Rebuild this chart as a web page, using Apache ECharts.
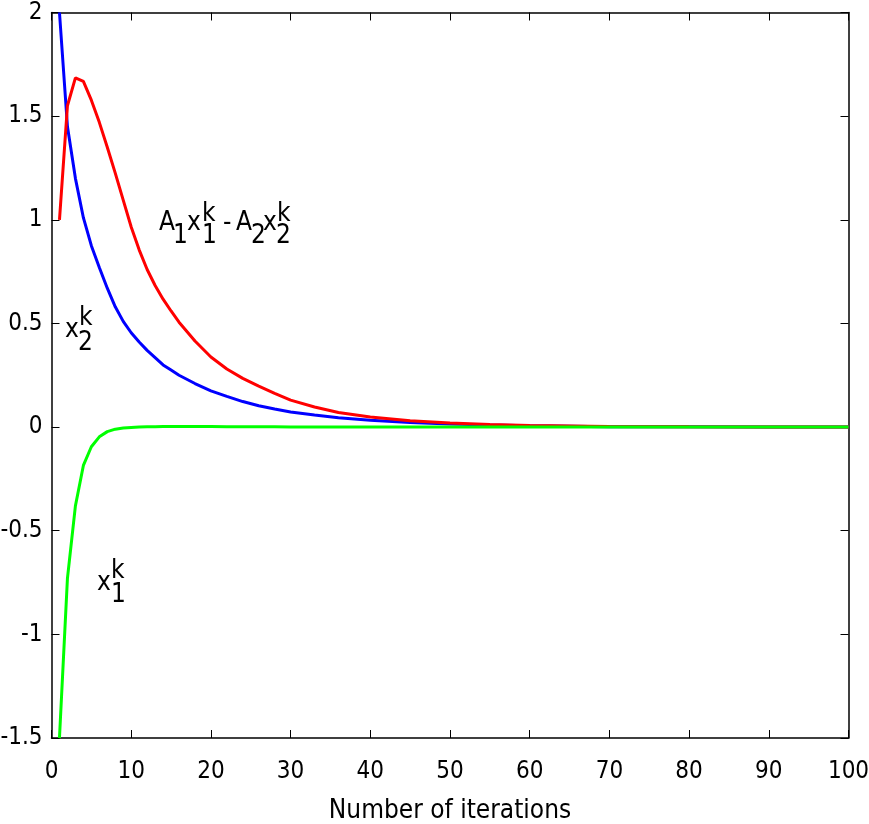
<!DOCTYPE html>
<html>
<head>
<meta charset="utf-8">
<script src="https://cdn.jsdelivr.net/npm/echarts@6/dist/echarts.min.js"></script>
<style>
  html, body { margin: 0; padding: 0; background: #fff; }
  #main { width: 869px; height: 824px; }
</style>
</head>
<body>
<div id="main"></div>
<script>
var iters = [1,2,3,4,5,6,7,8,9,10,11,12,13,14,15,16,18,20,22,24,26,28,30,33,36,40,45,50,55,60,70,80,90,100];
// x2^k (blue)
var x2Vals = [2.0,1.45,1.2,1.01,0.875,0.77,0.67,0.58,0.51,0.455,0.41,0.37,0.335,0.30,0.275,0.25,0.21,0.175,0.148,0.123,0.103,0.087,0.073,0.058,0.045,0.033,0.022,0.015,0.01,0.006,0.002,0.001,0,0];
// A1 x1^k - A2 x2^k (red)
var diffVals = [1.0,1.55,1.685,1.668,1.577,1.47,1.35,1.225,1.095,0.965,0.855,0.76,0.683,0.617,0.56,0.506,0.415,0.338,0.28,0.235,0.198,0.163,0.13,0.097,0.07,0.049,0.031,0.02,0.012,0.008,0.003,0.001,0,0];
// x1^k (green)
var x1Vals = [-1.5,-0.73,-0.38,-0.185,-0.095,-0.047,-0.022,-0.01,-0.005,-0.002,0,0.001,0.002,0.003,0.003,0.003,0.003,0.003,0.002,0.002,0.001,0.001,0,0,0,0,0,0,0,0,0,0,0,0];

var xTicks = {min: 0, max: 100, step: 10};
var yTicks = {min: -1.5, max: 2, step: 0.5};

function pairs(vals) {
	var out = [];
	for (var i = 0; i < iters.length; i++) {
		out.push([iters[i], vals[i]]);
	}
	return out;
}

var FONT = '"Liberation Sans Narrow", "DejaVu Sans Condensed", "Liberation Sans", sans-serif';
var myChart = echarts.init(document.getElementById('main'));

// pieces of a label with sub and superscripts: [text, x, baseline]
function label(parts, size) {
	return parts.map(function (p) {
		return {
			type: 'text',
			x: p[1],
			y: p[2],
			style: {
				text: p[0],
				fill: '#000',
				font: size + 'px ' + FONT,
				textVerticalAlign: 'bottom'
			}
		};
	});
}

var txt = 26;
var annotations = [].concat(
	label([['A', 159, 236], ['1', 173, 249], ['x', 187, 236], ['k', 202, 227], ['1', 202, 249],
	       ['-', 223, 236], ['A', 236, 236], ['2', 251, 249], ['x', 263, 236], ['k', 277, 227], ['2', 276, 249]], txt),
	label([['x', 65, 343], ['k', 79, 331], ['2', 78, 356]], txt),
	label([['x', 97, 596], ['k', 111, 584], ['1', 111, 608]], txt)
);

var axisLineStyle = {color: '#000', width: 1.5};
var tickStyle = {show: true, inside: true, length: 8, lineStyle: {color: '#000', width: 1}};
var option = {
	backgroundColor: '#fff',
	animation: false,
	grid: {left: 51.5, right: 20.5, top: 12.5, bottom: 86, containLabel: false, outerBoundsMode: 'none'},
	xAxis: [{
		type: 'value',
		min: xTicks.min, max: xTicks.max, interval: xTicks.step,
		name: 'Number of iterations',
		nameLocation: 'middle',
		nameGap: 60,
		nameTextStyle: {fontFamily: FONT, fontSize: 26, color: '#000'},
		axisLine: {show: true, onZero: false, lineStyle: axisLineStyle},
		axisTick: tickStyle,
		axisLabel: {fontFamily: FONT, fontSize: 24, color: '#000', margin: 22},
		splitLine: {show: false}
	}, {
		type: 'value', position: 'top',
		min: xTicks.min, max: xTicks.max, interval: xTicks.step,
		axisLine: {show: true, onZero: false, lineStyle: axisLineStyle},
		axisTick: tickStyle,
		axisLabel: {show: false},
		splitLine: {show: false}
	}],
	yAxis: [{
		type: 'value',
		min: yTicks.min, max: yTicks.max, interval: yTicks.step,
		axisLine: {show: true, onZero: false, lineStyle: axisLineStyle},
		axisTick: tickStyle,
		axisLabel: {fontFamily: FONT, fontSize: 24, color: '#000', margin: 9},
		splitLine: {show: false}
	}, {
		type: 'value', position: 'right',
		min: yTicks.min, max: yTicks.max, interval: yTicks.step,
		axisLine: {show: true, onZero: false, lineStyle: axisLineStyle},
		axisTick: tickStyle,
		axisLabel: {show: false},
		splitLine: {show: false}
	}],
	series: [{
		name: 'x2', type: 'line', data: pairs(x2Vals),
		showSymbol: false, clip: true,
		lineStyle: {color: '#0000ff', width: 3}
	}, {
		name: 'A1x1-A2x2', type: 'line', data: pairs(diffVals),
		showSymbol: false, clip: true,
		lineStyle: {color: '#ff0000', width: 3}
	}, {
		name: 'x1', type: 'line', data: pairs(x1Vals),
		showSymbol: false, clip: true,
		lineStyle: {color: '#00ff00', width: 3}
	}],
	graphic: annotations
};
myChart.setOption(option);
</script>
</body>
</html>
